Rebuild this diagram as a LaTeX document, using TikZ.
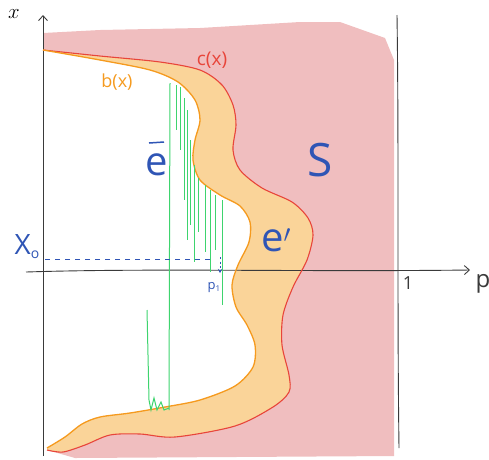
\documentclass[tikz,border=0pt]{standalone}
\usepackage{fontspec}
\setmainfont{Open Sans}
\usetikzlibrary{arrows.meta}
\definecolor{pinkfill}{HTML}{F0BEBF}
\definecolor{orfill}{HTML}{FAD499}
\definecolor{orline}{HTML}{F59A1E}
\definecolor{redline}{HTML}{E8453A}
\definecolor{axis}{HTML}{3A3A3A}
\definecolor{grn}{HTML}{3ED46E}
\definecolor{blu}{HTML}{2F55B5}
\tikzset{
  axisline/.style={axis, line width=0.9pt},
  grnline/.style={grn, line width=1pt},
  lbl/.style={inner sep=0pt},
  bluelbl/.style={lbl, text=blu},
}
\begin{document}
\begin{tikzpicture}[x=1pt,y=-1pt]
\useasboundingbox (0,0) rectangle (489,459);
% pink region S
\fill[pinkfill] plot[smooth] coordinates {(43,50) (100,56) (160,62) (200,70) (222,85) (233,105) (236,125) (233,150) (240,170) (262,188) (292,202) (308,218) (313,235) (307,260) (293,287) (283,315) (282,345) (289,375) (289,392) (273,407) (235,426) (175,437) (140,434) (110,435) (85,445) (63,452) (47,450)}
  -- (75,458) -- (394,456) -- (394,60) -- (385,38) -- (340,22) -- (300,22) -- (200,28) -- (100,30) -- (43,33) -- cycle;
% orange band
\fill[orfill] plot[smooth] coordinates {(43,50) (100,56) (160,62) (200,70) (222,85) (233,105) (236,125) (233,150) (240,170) (262,188) (292,202) (308,218) (313,235) (307,260) (293,287) (283,315) (282,345) (289,375) (289,392) (273,407) (235,426) (175,437) (140,434) (110,435) (85,445) (63,452) (47,450)}
  -- plot[smooth] coordinates {(47,448) (65,437) (82,424) (100,417) (130,413) (165,407) (200,400) (235,386) (253,367) (255,345) (247,325) (236,307) (232,285) (238,265) (249,242) (250,222) (240,206) (220,195) (200,180) (193,160) (195,140) (200,120) (195,100) (178,82) (150,70) (100,60) (43,50)} -- cycle;
% axes
\coordinate (yb) at (43,456);
\coordinate (yt) at (43,15);
\coordinate (xl) at (26,272);
\coordinate (xr) at (470,270);
\draw[axisline, -{Straight Barb[length=5pt,width=9pt]}] (yb) -- (yt);
\draw[axisline, -{Straight Barb[length=5pt,width=9pt]}] (xl) .. controls (150,268) and (300,272) .. (xr);
\coordinate (rt) at (397,15);
\coordinate (rb) at (399,448);
\draw[axisline] (rt) .. controls (399,150) and (397,300) .. (rb);
% curves
\draw[redline, line width=1.1pt] plot[smooth] coordinates {(43,50) (100,56) (160,62) (200,70) (222,85) (233,105) (236,125) (233,150) (240,170) (262,188) (292,202) (308,218) (313,235) (307,260) (293,287) (283,315) (282,345) (289,375) (289,392) (273,407) (235,426) (175,437) (140,434) (110,435) (85,445) (63,452) (47,450)};
\draw[orline, line width=1.3pt] plot[smooth] coordinates {(43,50) (100,60) (150,70) (178,82) (195,100) (200,120) (195,140) (193,160) (200,180) (220,195) (240,206) (250,222) (249,242) (238,265) (232,285) (236,307) (247,325) (255,345) (253,367) (235,386) (200,400) (165,407) (130,413) (100,417) (82,424) (65,437) (47,448)};
% green lines
\draw[grnline] (170,83) -- (169,410);
\draw[grnline] (147,310) -- (149,400) -- (151,410) -- (154,398) -- (157,410) -- (161,402) -- (164,410) -- (169,408);
\foreach \x/\a/\b in {176/85/130, 180/87/150, 184/98/200, 187/110/240, 190/140/225, 194/165/262, 198/178/232, 205/185/252, 210/190/272, 215/195/250, 222/200/305}
  \draw[grnline] (\x,\a) -- (\x,\b);
% blue dashed line and arrow
\coordinate (xo) at (45,259);
\coordinate (dend) at (214,259);
\draw[blu, line width=1pt, dash pattern=on 5pt off 5pt] (xo) -- (dend);
\coordinate (a1) at (220,257);
\coordinate (a2) at (220,273);
\draw[blu, line width=1pt, dash pattern=on 2pt off 2.5pt, -{Stealth[length=4pt,width=4pt]}] (a1) -- (a2);
% labels
\node[lbl] (lx) at (14,14) {\fontsize{22}{22}\selectfont $x$};
\node[lbl, text=axis] (lp) at (483,284) {\fontsize{24}{24}\selectfont p};
\node[lbl, text=axis] (l1) at (408,283) {\fontsize{18}{18}\selectfont 1};
\node[lbl, text=redline] (lc) at (212,60) {\fontsize{19}{19}\selectfont c(x)};
\node[lbl, text=orline] (lb) at (117,82) {\fontsize{18}{18}\selectfont b(x)};
\node[bluelbl] (lx0) at (27,247) {\fontsize{28}{28}\selectfont X\raisebox{-4pt}{\fontsize{14}{14}\selectfont o}};
\node[bluelbl] (lp1) at (214,288) {\fontsize{13}{13}\selectfont p\raisebox{-2pt}{\fontsize{8}{8}\selectfont 1}};
\node[bluelbl] (le) at (157,165) {\fontsize{40}{40}\selectfont e};
\coordinate (bar1) at (149,143);
\coordinate (bar2) at (164,142);
\draw[blu, line width=1.5pt] (bar1) -- (bar2);
\node[bluelbl] (lep) at (276,240) {\fontsize{40}{40}\selectfont e$'$};
\node[bluelbl] (ls) at (320,160) {\fontsize{46}{46}\selectfont S};
\end{tikzpicture}
\end{document}
